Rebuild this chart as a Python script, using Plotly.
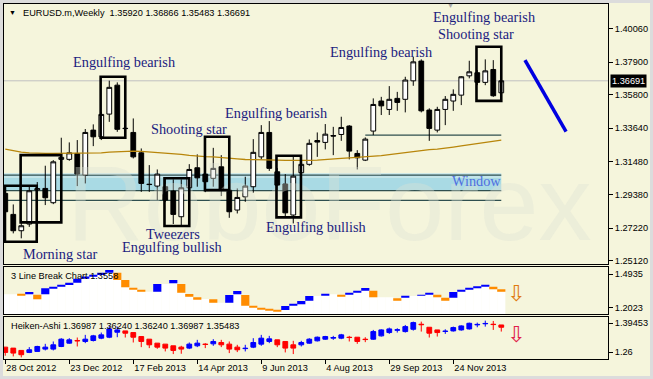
import pandas as pd
import plotly.graph_objects as go
from plotly.subplots import make_subplots

BG = "#F5F5DC"
FRAME = "#DCDCDC"
LABEL_BLUE = "#1C1C80"
WINDOW_BLUE = "#4F6FE0"
SANS = "Liberation Sans"
SERIF = "Liberation Serif"

# ---------------- data ----------------
first_week = "2012-10-28"
weeks = pd.date_range(first_week, periods=63, freq="7D")
tick_weeks = weeks[::8]

open_ = [1.2945, 1.2810, 1.2705, 1.2748, 1.2966, 1.2977, 1.2885, 1.3164, 1.3164, 1.3202,
         1.3063, 1.3352, 1.3309, 1.3455, 1.3641, 1.3364, 1.3337, 1.3206, 1.3004, 1.2992,
         1.2988, 1.2960, 1.2795, 1.2981, 1.3110, 1.3069, 1.3042, 1.3116, 1.2966, 1.2838,
         1.2923, 1.2988, 1.3180, 1.3337, 1.3084, 1.3005, 1.2806, 1.3078, 1.3132, 1.3285,
         1.3273, 1.3317, 1.3324, 1.3378, 1.3202, 1.3159, 1.3346, 1.3539, 1.3485, 1.3556,
         1.3550, 1.3669, 1.3796, 1.3481, 1.3352, 1.3485, 1.3539, 1.3577, 1.3701, 1.3721,
         1.3659, 1.3742, 1.35920]
high = [1.2979, 1.2874, 1.2773, 1.2988, 1.3018, 1.3123, 1.3159, 1.3303, 1.3273, 1.3288,
        1.3359, 1.3389, 1.3468, 1.3670, 1.3659, 1.3470, 1.3427, 1.3234, 1.3127, 1.3099,
        1.3042, 1.3035, 1.3035, 1.3133, 1.3196, 1.3127, 1.3238, 1.3191, 1.2988, 1.2977,
        1.3052, 1.3294, 1.3384, 1.3410, 1.3108, 1.3069, 1.3191, 1.3159, 1.3292, 1.3337,
        1.3391, 1.3373, 1.3438, 1.3384, 1.3223, 1.3305, 1.3556, 1.3566, 1.3635, 1.3598,
        1.3695, 1.3823, 1.3807, 1.3492, 1.3502, 1.3571, 1.3614, 1.3699, 1.3798, 1.3738,
        1.3807, 1.3802, 1.36866]
low = [1.2806, 1.2688, 1.2656, 1.2730, 1.2934, 1.2870, 1.2876, 1.3159, 1.3155, 1.2992,
       1.3009, 1.3249, 1.3288, 1.3405, 1.3341, 1.3322, 1.3170, 1.2955, 1.2955, 1.2902,
       1.2889, 1.2748, 1.2741, 1.2966, 1.2988, 1.2953, 1.2988, 1.2928, 1.2788, 1.2816,
       1.2891, 1.2949, 1.3164, 1.3090, 1.2966, 1.2795, 1.2752, 1.3050, 1.3123, 1.3180,
       1.3228, 1.3191, 1.3283, 1.3164, 1.3099, 1.3153, 1.3320, 1.3449, 1.3449, 1.3476,
       1.3466, 1.3637, 1.3466, 1.3283, 1.3337, 1.3384, 1.3476, 1.3513, 1.3685, 1.3641,
       1.3641, 1.3566, 1.35483]
close = [1.2827, 1.2705, 1.2737, 1.2962, 1.2976, 1.2917, 1.3148, 1.3177, 1.3206, 1.3069,
         1.3337, 1.3309, 1.3453, 1.3627, 1.3357, 1.3362, 1.3180, 1.3009, 1.3002, 1.3069,
         1.2902, 1.2810, 1.2981, 1.3099, 1.3045, 1.3020, 1.3106, 1.2971, 1.2827, 1.2919,
         1.2992, 1.3209, 1.3337, 1.3106, 1.2998, 1.2820, 1.3056, 1.3132, 1.3267, 1.3275,
         1.3326, 1.3314, 1.3369, 1.3217, 1.3174, 1.3294, 1.3517, 1.3508, 1.3550, 1.3530,
         1.3674, 1.3791, 1.3476, 1.3363, 1.3485, 1.3550, 1.3582, 1.3695, 1.3727, 1.3659,
         1.3733, 1.3573, 1.36691]
moving_avg = [1.3230, 1.3220, 1.3210, 1.3205, 1.3202, 1.3202, 1.3202, 1.3202, 1.3202, 1.3203,
              1.3204, 1.3205, 1.3206, 1.3210, 1.3213, 1.3216, 1.3217, 1.3215, 1.3212, 1.3209,
              1.3205, 1.3200, 1.3196, 1.3190, 1.3185, 1.3182, 1.3180, 1.3177, 1.3172, 1.3167,
              1.3163, 1.3161, 1.3160, 1.3159, 1.3159, 1.3158, 1.3157, 1.3157, 1.3158, 1.3159,
              1.3161, 1.3165, 1.3170, 1.3174, 1.3177, 1.3180, 1.3182, 1.3188, 1.3195, 1.3202,
              1.3208, 1.3214, 1.3220, 1.3226, 1.3230, 1.3235, 1.3243, 1.3250, 1.3258, 1.3265,
              1.3273, 1.3282, 1.3288]
current_price = 1.36691
price_ticks = [1.40060, 1.37900, 1.35800, 1.33640, 1.31480, 1.29380, 1.27220, 1.25120]

# pattern boxes (week offsets from first bar, price bounds)
box_first = [-0.04, 1.92, 11.92, 19.9, 24.96, 33.9, 58.9]
box_last = [3.93, 7.0, 15.0, 23.0, 28.0, 36.96, 62.0]
box_high = [1.2994, 1.3191, 1.3695, 1.3042, 1.3309, 1.3187, 1.3888]
box_low = [1.2634, 1.2759, 1.3303, 1.2735, 1.2966, 1.2791, 1.3540]

# window zone
window_top, window_mid, window_bottom = 1.3074, 1.3045, 1.2962
window_lines = [1.3063, 1.2963, 1.2900]
resistance = 1.3320

# forecast line
trend_weeks = [64.96, 70.1]
trend_prices = [1.3802, 1.3342]

# 3 Line Break
lb_low = [1.3180, 1.3180, 1.3094, 1.3180, 1.2748, 1.3180, 1.3699, 1.3838, 1.3985, 1.4183,
          1.4529, 1.4719, 1.4849, 1.5047, 1.4417, 1.3786, 1.3613, 1.3405, 1.3405, 1.3405,
          1.4071, 1.4131, 1.3318, 1.2972, 1.2774, 1.2774, 1.2454, 1.2454, 1.2454, 1.3180,
          1.2195, 1.2057, 1.1910, 1.1823, 1.1737, 1.1823, 1.2195, 1.2316, 1.2627, 1.3033,
          1.3094, 1.3180, 1.2972, 1.3206, 1.3318, 1.3492, 1.2920, 1.2920, 1.2920, 1.2627,
          1.2886, 1.3033, 1.3059, 1.3180, 1.2920, 1.2627, 1.2886, 1.3405, 1.3578, 1.3699,
          1.3872, 1.3613, 1.3405]
lb_high = [1.3180, 1.3180, 1.3206, 1.3379, 1.3146, 1.3699, 1.3838, 1.3985, 1.4183, 1.4529,
           1.4719, 1.4849, 1.5047, 1.5281, 1.5047, 1.4417, 1.3725, 1.3552, 1.3405, 1.4071,
           1.4071, 1.4417, 1.4071, 1.3206, 1.2920, 1.2774, 1.2748, 1.2454, 1.3120, 1.3466,
           1.3120, 1.2169, 1.2022, 1.1884, 1.1823, 1.2169, 1.2316, 1.2602, 1.3033, 1.3033,
           1.3180, 1.3180, 1.3146, 1.3318, 1.3492, 1.3725, 1.3492, 1.2920, 1.2920, 1.2834,
           1.3033, 1.3033, 1.3120, 1.3293, 1.3146, 1.2886, 1.3379, 1.3578, 1.3699, 1.3872,
           1.4011, 1.3838, 1.3613]
lb_dir = [0, 0, -1, 1, -1, 1, 1, 1, 1, 1,
          1, 1, 1, 1, -1, -1, -1, -1, 0, 1,
          0, 1, -1, -1, -1, 0, -1, 0, 1, 1,
          -1, -1, -1, -1, -1, 1, 1, 1, 1, 0,
          1, 0, -1, 1, 1, 1, -1, 0, 0, -1,
          1, 0, 1, 1, -1, -1, 1, 1, 1, 1,
          1, -1, -1]
lb_ticks = [1.4935, 1.2023]
lb_range = [1.1478, 1.5566]

# Heiken-Ashi
ha_open = [1.2830, 1.2784, 1.2676, 1.2583, 1.2630, 1.2738, 1.2738, 1.2861, 1.3016, 1.3140,
           1.3094, 1.3140, 1.3248, 1.3294, 1.3526, 1.3588, 1.3511, 1.3325, 1.3202, 1.3016,
           1.2970, 1.2892, 1.2830, 1.2784, 1.2892, 1.2970, 1.2985, 1.3047, 1.2970, 1.2830,
           1.2760, 1.2830, 1.2970, 1.3094, 1.3171, 1.3094, 1.2939, 1.2939, 1.3016, 1.3125,
           1.3202, 1.3248, 1.3248, 1.3294, 1.3294, 1.3200, 1.3202, 1.3356, 1.3511, 1.3620,
           1.3557, 1.3665, 1.3900, 1.3758, 1.3634, 1.3560, 1.3588, 1.3634, 1.3681, 1.3870,
           1.3920, 1.3900, 1.3866]
ha_high = [1.2830, 1.2784, 1.2676, 1.2830, 1.2892, 1.2985, 1.3094, 1.3248, 1.3248, 1.3279,
           1.3403, 1.3403, 1.3511, 1.3820, 1.3789, 1.3588, 1.3511, 1.3325, 1.3202, 1.3016,
           1.2970, 1.2892, 1.2892, 1.3047, 1.3171, 1.3016, 1.3202, 1.3171, 1.3094, 1.2939,
           1.2939, 1.3248, 1.3403, 1.3356, 1.3171, 1.3094, 1.3125, 1.3125, 1.3248, 1.3325,
           1.3356, 1.3356, 1.3449, 1.3356, 1.3294, 1.3294, 1.3634, 1.3665, 1.3743, 1.3712,
           1.3866, 1.4021, 1.4021, 1.3758, 1.3634, 1.3665, 1.3789, 1.3850, 1.3975, 1.3975,
           1.4067, 1.4052, 1.3866]
ha_low = [1.2429, 1.2398, 1.2351, 1.2552, 1.2630, 1.2676, 1.2676, 1.2830, 1.2985, 1.2861,
          1.3016, 1.3094, 1.3202, 1.3248, 1.3294, 1.3279, 1.3047, 1.2830, 1.2784, 1.2753,
          1.2630, 1.2506, 1.2521, 1.2738, 1.2830, 1.2784, 1.2892, 1.2830, 1.2552, 1.2599,
          1.2630, 1.2784, 1.2892, 1.3016, 1.2830, 1.2583, 1.2506, 1.2861, 1.2985, 1.3094,
          1.3171, 1.3171, 1.3202, 1.3094, 1.2985, 1.3063, 1.3171, 1.3325, 1.3449, 1.3511,
          1.3511, 1.3603, 1.3557, 1.3279, 1.3325, 1.3449, 1.3557, 1.3600, 1.3650, 1.3758,
          1.3789, 1.3634, 1.3557]
ha_close = [1.2583, 1.2552, 1.2475, 1.2707, 1.2861, 1.2830, 1.2939, 1.3202, 1.3171, 1.3125,
            1.3202, 1.3356, 1.3403, 1.3681, 1.3634, 1.3480, 1.3294, 1.3094, 1.2939, 1.2830,
            1.2784, 1.2676, 1.2738, 1.2970, 1.3016, 1.2955, 1.3094, 1.2939, 1.2738, 1.2707,
            1.2775, 1.3047, 1.3248, 1.3217, 1.2939, 1.2784, 1.2784, 1.3047, 1.3202, 1.3294,
            1.3325, 1.3279, 1.3403, 1.3279, 1.3094, 1.3185, 1.3557, 1.3634, 1.3681, 1.3640,
            1.3789, 1.3975, 1.3880, 1.3480, 1.3511, 1.3575, 1.3743, 1.3820, 1.3944, 1.3890,
            1.3935, 1.3885, 1.3758]
ha_ticks = [1.39453, 1.26]
ha_range = [1.2276, 1.4252]

main_range = [1.2491, 1.4163]


def wk(k):
    return (weeks[0] + pd.Timedelta(days=7 * k)).strftime("%Y-%m-%d %H:%M:%S")


WEEK_MS = 7 * 24 * 3600 * 1000

fig = make_subplots(rows=3, cols=1, shared_xaxes=True, vertical_spacing=0.01)

# watermark (bottom-most trace)
fig.add_trace(go.Scatter(x=[wk(40.5)], y=[1.2818], mode="text", text=["RoboForex"],
                         textposition="middle center",
                         textfont=dict(family=SANS, size=106, color="rgba(222,226,212,0.38)"),
                         hoverinfo="skip"), row=1, col=1)
fig.add_trace(go.Scatter(x=weeks, y=moving_avg, mode="lines",
                         line=dict(color="#B8860B", width=1.3), hoverinfo="skip"), row=1, col=1)
fig.add_trace(go.Candlestick(x=weeks, open=open_, high=high, low=low, close=close,
                             increasing=dict(line=dict(color="black", width=1), fillcolor="white"),
                             decreasing=dict(line=dict(color="black", width=1), fillcolor="black"),
                             whiskerwidth=0, hoverinfo="skip"), row=1, col=1)
fig.add_trace(go.Scatter(x=[wk(k) for k in trend_weeks], y=trend_prices, mode="lines",
                         line=dict(color="#0000E0", width=3.5), hoverinfo="skip"), row=1, col=1)

# 3 line break panel
floor = lb_range[0]
fig.add_trace(go.Bar(x=weeks, y=[v - floor for v in lb_low], base=floor, width=WEEK_MS * 1.02,
                     marker=dict(color="white", line=dict(width=0)), hoverinfo="skip"), row=2, col=1)
dir_colors = {1: "#0000FF", -1: "#FF8C00", 0: "rgba(0,0,0,0)"}
fig.add_trace(go.Bar(x=weeks, y=[h - l for h, l in zip(lb_high, lb_low)], base=lb_low,
                     width=WEEK_MS * 1.02,
                     marker=dict(color=[dir_colors[d] for d in lb_dir], line=dict(width=0)),
                     hoverinfo="skip"), row=2, col=1)

# Heiken-Ashi panel
fig.add_trace(go.Candlestick(x=weeks, open=ha_open, high=ha_high, low=ha_low, close=ha_close,
                             increasing=dict(line=dict(color="#0000FF", width=1), fillcolor="#0000FF"),
                             decreasing=dict(line=dict(color="#FF0000", width=1), fillcolor="#FF0000"),
                             whiskerwidth=0, hoverinfo="skip"), row=3, col=1)

shapes = []
# window zone
shapes.append(dict(type="rect", xref="x", yref="y", x0=wk(-1), x1=wk(62), y0=window_mid, y1=window_top,
                   fillcolor="#C2E4EC", line=dict(width=0), layer="below"))
shapes.append(dict(type="rect", xref="x", yref="y", x0=wk(-1), x1=wk(62), y0=window_bottom, y1=window_mid,
                   fillcolor="#A9DAE4", line=dict(width=0), layer="below"))
for lv in window_lines:
    shapes.append(dict(type="line", xref="x", yref="y", x0=wk(-1), x1=wk(62), y0=lv, y1=lv,
                       line=dict(color="#2F4F4F", width=1.2), layer="below"))
shapes.append(dict(type="line", xref="x", yref="y", x0=wk(45), x1=wk(62), y0=resistance, y1=resistance,
                   line=dict(color="#2F4F4F", width=1.2), layer="below"))
# current price line
shapes.append(dict(type="line", xref="x domain", yref="y", x0=0, x1=1, y0=current_price, y1=current_price,
                   line=dict(color="#C0C0C0", width=1), layer="below"))
# pattern boxes
for a, b, hi, lo in zip(box_first, box_last, box_high, box_low):
    shapes.append(dict(type="rect", xref="x", yref="y", x0=wk(a), x1=wk(b), y0=lo, y1=hi,
                       line=dict(color="black", width=2.6), fillcolor="rgba(0,0,0,0)"))


# window frame (outside the chart)
def px_x(p):
    return (p - 4) / 604


def px_y(p):
    return (359 - p) / 355


for x0, x1, y0, y1 in [(0, 3, 0, 379), (0, 653, 0, 3), (650, 653, 0, 379), (0, 653, 376, 379)]:
    shapes.append(dict(type="rect", xref="paper", yref="paper", x0=px_x(x0), x1=px_x(x1),
                       y0=px_y(y1), y1=px_y(y0), fillcolor=FRAME, line=dict(width=0)))

annotations = []
pattern_labels = [
    ("Engulfing bearish", 14.9, 1.3791, LABEL_BLUE),
    ("Shooting star", 22.96, 1.3357, LABEL_BLUE),
    ("Engulfing bearish", 33.9, 1.3459, LABEL_BLUE),
    ("Engulfing bearish", 46.96, 1.3856, LABEL_BLUE),
    ("Engulfing bearish", 59.9, 1.4081, LABEL_BLUE),
    ("Shooting star", 58.9, 1.3967, LABEL_BLUE),
    ("Morning star", 6.9, 1.2553, LABEL_BLUE),
    ("Tweezers", 20.96, 1.2681, LABEL_BLUE),
    ("Engulfing bullish", 20.8, 1.2602, LABEL_BLUE),
    ("Engulfing bullish", 38.9, 1.2730, LABEL_BLUE),
    ("Window", 58.96, 1.3026, WINDOW_BLUE),
]
for txt, k, p, col in pattern_labels:
    annotations.append(dict(text=txt, x=wk(k), y=p, xref="x", yref="y", showarrow=False,
                            xanchor="center", yanchor="middle",
                            font=dict(family=SERIF, size=14.3, color=col)))

annotations.append(dict(text="▼", x=px_x(12), y=px_y(12.7), xref="paper", yref="paper",
                        showarrow=False, xanchor="center", yanchor="middle",
                        font=dict(family=SANS, size=7, color="black")))
annotations.append(dict(text="EURUSD.m,Weekly\u00a0\u00a01.35920 1.36866 1.35483 1.36691",
                        x=px_x(20.7), y=px_y(12.7), xref="paper", yref="paper", showarrow=False,
                        xanchor="left", yanchor="middle", font=dict(family=SANS, size=9.2, color="black")))
annotations.append(dict(text="▼", x=px_x(450), y=px_y(5.5), xref="paper", yref="paper",
                        showarrow=False, xanchor="center", yanchor="middle",
                        font=dict(family=SANS, size=7, color="#A8A8A8")))
annotations.append(dict(text="3 Line Break Chart 1.3558", x=px_x(9.3), y=px_y(275.7),
                        xref="paper", yref="paper", showarrow=False, xanchor="left", yanchor="middle",
                        font=dict(family=SANS, size=9.2, color="black")))
annotations.append(dict(text="Heiken-Ashi 1.36987 1.36240 1.36240 1.36987 1.35483", x=px_x(9.3),
                        y=px_y(325.7), xref="paper", yref="paper", showarrow=False, xanchor="left",
                        yanchor="middle", font=dict(family=SANS, size=9.2, color="black")))
annotations.append(dict(text="1.36691", x=1, y=current_price, xref="paper", yref="y", showarrow=False,
                        xanchor="left", yanchor="middle", xshift=2, bgcolor="black", borderpad=1,
                        font=dict(family=SANS, size=9.2, color="white")))
annotations.append(dict(text="⇩", x=wk(63.9), y=1.3233, xref="x2", yref="y2", showarrow=False,
                        font=dict(family="DejaVu Sans", size=22, color="#E07A10")))
annotations.append(dict(text="⇩", x=wk(63.9), y=1.3403, xref="x3", yref="y3", showarrow=False,
                        font=dict(family="DejaVu Sans", size=22, color="#E0204A")))

axis_common = dict(showline=True, mirror=True, linecolor="black", linewidth=1,
                   showgrid=False, zeroline=False, automargin=False)
x_range = [wk(-0.16), wk(75.34)]
fig.update_xaxes(rangeslider_visible=False, range=x_range, type="date", **axis_common)
y_common = dict(side="right", ticks="outside", ticklen=4, tickcolor="black",
                tickfont=dict(family=SANS, size=9.2, color="black"), **axis_common)
fig.update_layout(
    template="none",
    xaxis=dict(showticklabels=False, ticks=""),
    xaxis2=dict(showticklabels=False, ticks=""),
    xaxis3=dict(tickvals=list(tick_weeks), tickformat="%-d %b %Y", ticks="outside", ticklen=4,
                tickcolor="black", ticklabelposition="outside right",
                tickfont=dict(family=SANS, size=9.2, color="black")),
    yaxis=dict(domain=[0.2676, 1.0], range=main_range, tickvals=price_ticks,
               ticktext=[f"{v:.5f}" for v in price_ticks], **y_common),
    yaxis2=dict(domain=[0.1268, 0.2600], range=lb_range, tickvals=lb_ticks,
                ticktext=[f"{v:.4f}" for v in lb_ticks], **y_common),
    yaxis3=dict(domain=[0.0, 0.1192], range=ha_range, tickvals=ha_ticks,
                ticktext=["1.39453", "1.26"], **y_common),
    width=653, height=379,
    margin=dict(l=4, r=45, t=4, b=20, autoexpand=False),
    paper_bgcolor=BG, plot_bgcolor=BG,
    showlegend=False, barmode="overlay",
    boxgap=0.15, boxgroupgap=0.3,
    font=dict(family=SANS, size=9.2, color="black"),
    shapes=shapes, annotations=annotations,
)

fig.write_html("out.html", config={"displayModeBar": False},
               post_script="document.body.style.margin='0';document.body.style.padding='0';")
